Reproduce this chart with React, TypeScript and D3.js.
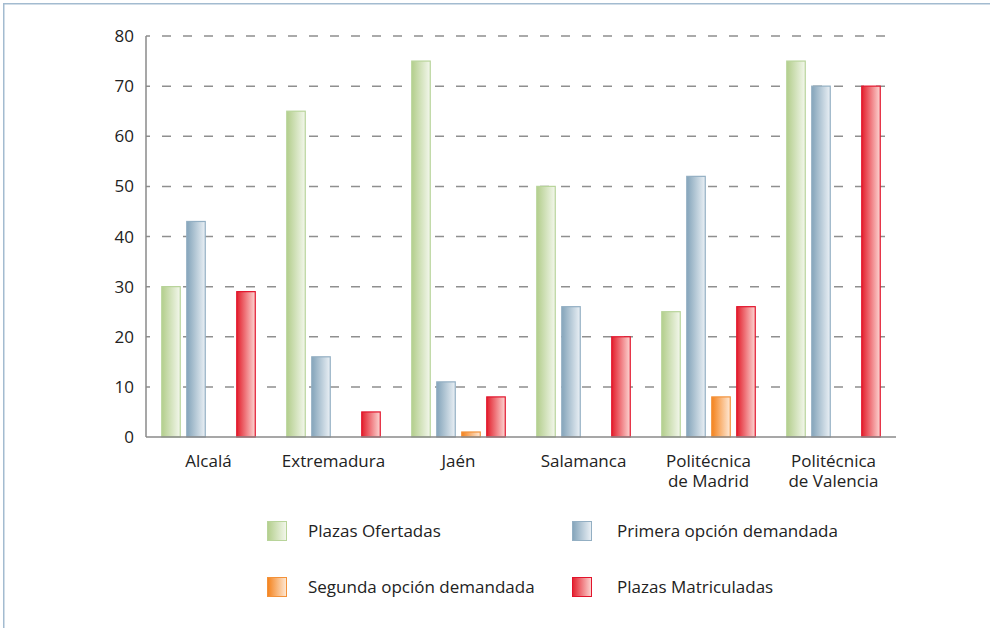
import React from "react";
import * as d3 from "d3";

const categories: string[][] = [
  ["Alcalá"],
  ["Extremadura"],
  ["Jaén"],
  ["Salamanca"],
  ["Politécnica", "de Madrid"],
  ["Politécnica", "de Valencia"],
];
const seriesNames = [
  "Plazas Ofertadas",
  "Primera opción demandada",
  "Segunda opción demandada",
  "Plazas Matriculadas",
];
const plazasOfertadas = [30, 65, 75, 50, 25, 75];
const primeraOpcion = [43, 16, 11, 26, 52, 70];
const segundaOpcion = [0, 0, 1, 0, 8, 0];
const plazasMatriculadas = [29, 5, 8, 20, 26, 70];
const yTicks = [0, 10, 20, 30, 40, 50, 60, 70, 80];

const seriesValues = [plazasOfertadas, primeraOpcion, segundaOpcion, plazasMatriculadas];
const palette = [
  { dark: "#b3ce8c", light: "#f3f7ec", stroke: "#b8d49a" },
  { dark: "#84a4ba", light: "#eaf0f5", stroke: "#93afc3" },
  { dark: "#f4821c", light: "#fee9d6", stroke: "#f3923a" },
  { dark: "#e3202d", light: "#fcd6d3", stroke: "#e2142c" },
];

const FONT = "'Open Sans', sans-serif";

export default function App() {
  const W = 990, H = 628;
  const left = 146, right = 896, top = 36, bottom = 437;
  const keys = categories.map((c) => c.join(" "));
  const x0 = d3.scaleBand<string>().domain(keys).range([left, right]).padding(0);
  const x1 = d3
    .scaleBand<string>()
    .domain(seriesNames)
    .range([12.5, x0.bandwidth() - 12.5])
    .paddingInner(0.26)
    .paddingOuter(0.13);
  const y = d3.scaleLinear().domain([0, 80]).range([bottom, top]);

  const legendPos = [
    { x: 267, y: 521 },
    { x: 572, y: 521 },
    { x: 267, y: 577 },
    { x: 572, y: 577 },
  ];
  const legendTextX = [308, 617, 308, 617];

  return (
    <svg
      width={W}
      height={H}
      style={{ position: "absolute", left: 0, top: 0, background: "#fff" }}
      fontFamily={FONT}
    >
      <defs>
        {palette.map((p, i) => (
          <linearGradient key={i} id={`g${i}`} x1="0" x2="1" y1="0" y2="0">
            <stop offset="0" stopColor={p.dark} />
            <stop offset="1" stopColor={p.light} />
          </linearGradient>
        ))}
      </defs>
      <rect x={0} y={0} width={W} height={H} fill="#fff" />
      {/* frame */}
      <line x1={3.75} x2={3.75} y1={3} y2={H} stroke="#a3bbd0" strokeWidth={1.5} />
      <line x1={3} x2={W} y1={3.75} y2={3.75} stroke="#a3bbd0" strokeWidth={1.5} />

      {/* gridlines */}
      {yTicks
        .filter((t) => t > 0)
        .map((t) => (
          <line
            key={t}
            x1={left}
            x2={right}
            y1={y(t)}
            y2={y(t)}
            stroke="#8f8f8f"
            strokeWidth={1.5}
            strokeDasharray="9 12"
            strokeDashoffset={5}
          />
        ))}
      {/* y labels */}
      {yTicks.map((t) => (
        <text
          key={t}
          x={134}
          y={y(t)}
          dy="0.36em"
          textAnchor="end"
          fontSize={17}
          fill="#222"
        >
          {t}
        </text>
      ))}

      {/* bars */}
      {categories.map((c, ci) =>
        seriesNames.map((s, si) => {
          const v = seriesValues[si][ci];
          if (!v) return null;
          const bx = (x0(keys[ci]) as number) + (x1(s) as number);
          return (
            <rect
              key={`${ci}-${si}`}
              x={bx}
              y={y(v)}
              width={x1.bandwidth()}
              height={y(0) - y(v)}
              fill={`url(#g${si})`}
              stroke={palette[si].stroke}
              strokeWidth={1.2}
            />
          );
        })
      )}

      {/* axes */}
      <line x1={left} x2={left} y1={top} y2={bottom} stroke="#8a8a8a" strokeWidth={1.5} />
      <line x1={left} x2={right} y1={bottom} y2={bottom} stroke="#8a8a8a" strokeWidth={1.5} />

      {/* x labels */}
      {categories.map((c, ci) => (
        <text
          key={ci}
          x={(x0(keys[ci]) as number) + x0.bandwidth() / 2}
          y={467}
          textAnchor="middle"
          fontSize={17}
          fill="#222"
        >
          {c.map((line, li) => (
            <tspan
              key={li}
              x={(x0(keys[ci]) as number) + x0.bandwidth() / 2}
              dy={li === 0 ? 0 : 20}
            >
              {line}
            </tspan>
          ))}
        </text>
      ))}

      {/* legend */}
      {seriesNames.map((s, si) => (
        <g key={s}>
          <rect
            x={legendPos[si].x + 0.5}
            y={legendPos[si].y + 0.5}
            width={19}
            height={19}
            fill={`url(#g${si})`}
            stroke={palette[si].stroke}
            strokeWidth={1}
          />
          <text
            x={legendTextX[si]}
            y={legendPos[si].y + 16}
            fontSize={17}
            fill="#222"
          >
            {s}
          </text>
        </g>
      ))}
    </svg>
  );
}
